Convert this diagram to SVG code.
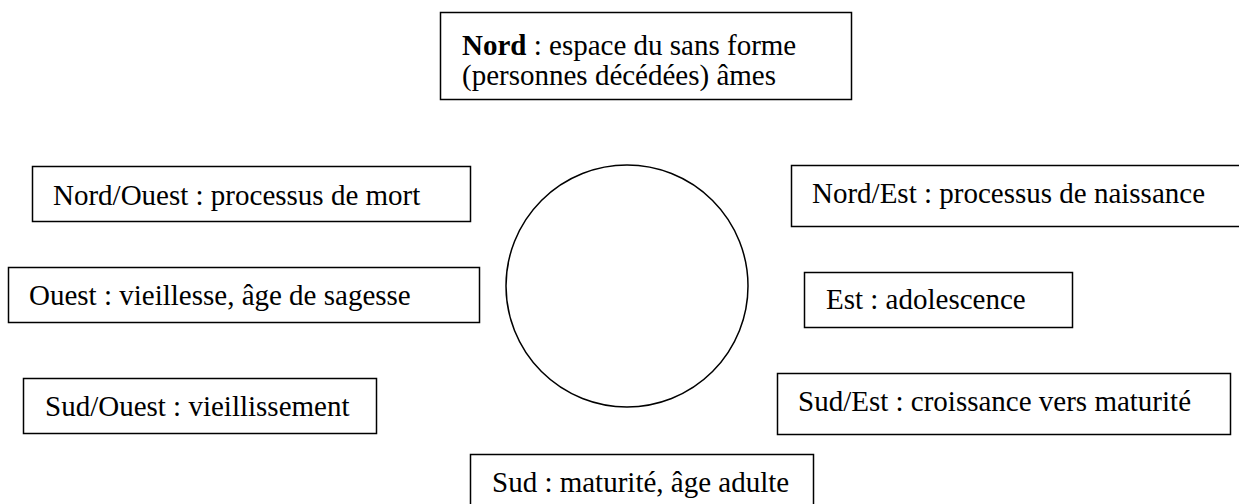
<svg xmlns="http://www.w3.org/2000/svg" width="1239" height="504" viewBox="0 0 1239 504">
<style>
.box{fill:#fff;stroke:#000;stroke-width:1.5}
.t{font-family:"Liberation Serif","Times New Roman",serif;font-size:29px;fill:#000}
.b{font-weight:bold}
</style>
<rect width="1239" height="504" fill="#fff"/>
<g id="connectors"></g>
<g id="centre"><circle cx="627" cy="286" r="121" fill="none" stroke="#000" stroke-width="1.5"/></g>
<g id="nord"><rect class="box" x="440.5" y="12.5" width="411" height="87"/><text class="t" x="462" y="55"><tspan class="b">Nord</tspan> : espace du sans forme</text><text class="t" x="462" y="85">(personnes décédées) âmes</text></g>
<g id="nord-ouest"><rect class="box" x="32.5" y="166.5" width="438" height="55"/><text class="t" x="53" y="205">Nord/Ouest : processus de mort</text></g>
<g id="ouest"><rect class="box" x="8.5" y="267.5" width="471" height="55"/><text class="t" x="29" y="305">Ouest : vieillesse, âge de sagesse</text></g>
<g id="sud-ouest"><rect class="box" x="23.5" y="378.5" width="353" height="55"/><text class="t" x="45" y="416">Sud/Ouest : vieillissement</text></g>
<g id="nord-est"><rect class="box" x="791.5" y="165.5" width="460" height="61"/><text class="t" x="812" y="203">Nord/Est : processus de naissance</text></g>
<g id="est"><rect class="box" x="804.5" y="272.5" width="268" height="55"/><text class="t" x="826" y="309">Est : adolescence</text></g>
<g id="sud-est"><rect class="box" x="777.5" y="373.5" width="453" height="61"/><text class="t" x="798" y="411">Sud/Est : croissance vers maturité</text></g>
<g id="sud"><rect class="box" x="470.5" y="454.5" width="343" height="60"/><text class="t" x="492" y="492">Sud : maturité, âge adulte</text></g>
</svg>
